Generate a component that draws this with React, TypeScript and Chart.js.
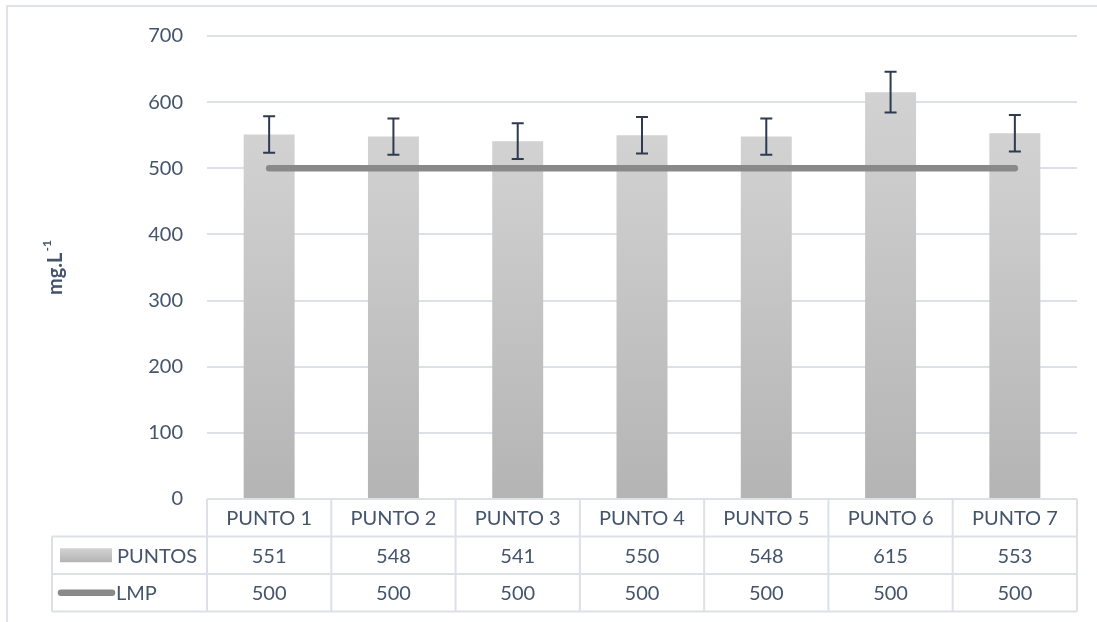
import React, { useEffect, useRef } from "react";
import { Chart, registerables } from "chart.js";

Chart.register(...registerables);

const categories = ["PUNTO 1", "PUNTO 2", "PUNTO 3", "PUNTO 4", "PUNTO 5", "PUNTO 6", "PUNTO 7"];
const puntosValues = [551, 548, 541, 550, 548, 615, 553];
const puntosErrors = [27.6, 27.4, 27.1, 27.5, 27.4, 30.8, 27.7];
const lmpValues = [500, 500, 500, 500, 500, 500, 500];
const seriesNames = ["PUNTOS", "LMP"];
const yMin = 0;
const yMax = 700;
const yStep = 100;
const yTitleMain = "mg.L";
const yTitleSup = "-1";

const TEXT = "#44546a";
const FONT = "Lato, 'Open Sans', sans-serif";
const GRID = "#dde1e7";
const BAR_TOP = "#d2d2d2";
const BAR_BOTTOM = "#b4b4b4";
const LINE = "#898989";
const ERR = "#2e3a50";

const framePlugin = {
  id: "frame",
  beforeDraw(chart: any) {
    const c = chart.ctx;
    c.save();
    c.strokeStyle = "#dfe3e8";
    c.lineWidth = 2;
    c.beginPath();
    c.moveTo(7, chart.height + 5);
    c.lineTo(7, 6);
    c.lineTo(chart.width + 5, 6);
    c.stroke();
    c.restore();
  },
};

const errorBarPlugin = {
  id: "errorBars",
  afterDatasetsDraw(chart: any) {
    const meta = chart.getDatasetMeta(0);
    const y = chart.scales.y;
    const c = chart.ctx;
    c.save();
    c.strokeStyle = ERR;
    c.lineWidth = 2;
    meta.data.forEach((el: any, i: number) => {
      const v = puntosValues[i];
      const e = puntosErrors[i];
      const yt = y.getPixelForValue(v + e);
      const yb = y.getPixelForValue(v - e);
      const x = el.x;
      c.beginPath();
      c.moveTo(x, yt);
      c.lineTo(x, yb);
      c.moveTo(x - 6, yt);
      c.lineTo(x + 6, yt);
      c.moveTo(x - 6, yb);
      c.lineTo(x + 6, yb);
      c.stroke();
    });
    c.restore();
  },
};

const tablePlugin = {
  id: "dataTable",
  afterDraw(chart: any) {
    const c = chart.ctx;
    const area = chart.chartArea;
    const xs = chart.scales.x;
    const n = categories.length;
    const colW = (area.right - area.left) / n;
    const rowH = 37.5;
    const top = area.bottom;
    const legendLeft = 52;
    c.save();
    c.strokeStyle = GRID;
    c.lineWidth = 2;
    c.beginPath();
    c.moveTo(area.left, top);
    c.lineTo(area.right, top);
    for (let r = 1; r <= 3; r++) {
      c.moveTo(legendLeft, top + rowH * r);
      c.lineTo(area.right, top + rowH * r);
    }
    for (let i = 0; i <= n; i++) {
      const x = area.left + colW * i;
      c.moveTo(x, top);
      c.lineTo(x, top + rowH * 3);
    }
    c.moveTo(legendLeft, top + rowH);
    c.lineTo(legendLeft, top + rowH * 3);
    c.stroke();

    c.fillStyle = TEXT;
    c.font = `20px ${FONT}`;
    c.textAlign = "center";
    c.textBaseline = "middle";
    categories.forEach((cat, i) => {
      const cx = xs.getPixelForValue(i);
      c.fillText(cat, cx, top + rowH * 0.5 + 1);
      c.fillText(String(puntosValues[i]), cx, top + rowH * 1.5 + 1);
      c.fillText(String(lmpValues[i]), cx, top + rowH * 2.5 + 1);
    });

    const r1 = top + rowH * 1.5;
    const g = c.createLinearGradient(0, r1 - 7, 0, r1 + 7);
    g.addColorStop(0, BAR_TOP);
    g.addColorStop(1, BAR_BOTTOM);
    c.fillStyle = g;
    c.fillRect(60, r1 - 7, 52, 14);
    const r2 = top + rowH * 2.5;
    c.strokeStyle = LINE;
    c.lineWidth = 6.5;
    c.lineCap = "round";
    c.beginPath();
    c.moveTo(61, r2);
    c.lineTo(112, r2);
    c.stroke();

    c.fillStyle = TEXT;
    c.textAlign = "left";
    c.fillText(seriesNames[0], 117, r1 + 1);
    c.fillText(seriesNames[1], 116, r2 + 1);

    c.save();
    c.translate(55, 268);
    c.rotate(-Math.PI / 2);
    c.font = `bold 20px ${FONT}`;
    const w1 = c.measureText(yTitleMain).width;
    c.font = `bold 12px ${FONT}`;
    const w2 = c.measureText(yTitleSup).width;
    const start = -(w1 + w2) / 2;
    c.textAlign = "left";
    c.textBaseline = "alphabetic";
    c.font = `bold 20px ${FONT}`;
    c.fillText(yTitleMain, start, 7);
    c.font = `bold 12px ${FONT}`;
    c.fillText(yTitleSup, start + w1 + 1, -4);
    c.restore();

    c.restore();
  },
};

export default function App() {
  const ref = useRef<HTMLCanvasElement | null>(null);
  useEffect(() => {
    if (!ref.current) return;
    const chart = new Chart(ref.current, {
      type: "bar",
      data: {
        labels: categories,
        datasets: [
          {
            type: "bar",
            label: seriesNames[0],
            data: puntosValues,
            order: 1,
            barPercentage: 0.41,
            categoryPercentage: 1,
            backgroundColor: (ctx: any) => {
              const ch = ctx.chart;
              if (!ch.chartArea || ctx.raw == null) return BAR_BOTTOM;
              const yTop = ch.scales.y.getPixelForValue(ctx.raw);
              const yBot = ch.scales.y.getPixelForValue(0);
              const g = ch.ctx.createLinearGradient(0, yTop, 0, yBot);
              g.addColorStop(0, BAR_TOP);
              g.addColorStop(1, BAR_BOTTOM);
              return g;
            },
          } as any,
          {
            type: "line",
            label: seriesNames[1],
            data: lmpValues,
            order: 0,
            borderColor: LINE,
            borderWidth: 6.5,
            borderCapStyle: "round",
            pointRadius: 0,
            fill: false,
          } as any,
        ],
      },
      options: {
        animation: false,
        responsive: false,
        maintainAspectRatio: false,
        layout: { padding: { left: 0, right: 20, top: 34, bottom: 123 } },
        plugins: {
          legend: { display: false },
          tooltip: { enabled: false },
          title: { display: false },
        },
        scales: {
          x: {
            display: false,
            offset: true,
          },
          y: {
            min: yMin,
            max: yMax,
            afterFit: (s: any) => {
              s.width = 207;
            },
            ticks: {
              stepSize: yStep,
              padding: 24,
              color: TEXT,
              font: { family: FONT, size: 20 },
            },
            grid: { color: GRID, lineWidth: 2, drawTicks: false },
            border: { display: false },
          },
        },
      },
      plugins: [framePlugin, errorBarPlugin, tablePlugin],
    });
    return () => chart.destroy();
  }, []);
  return (
    <div style={{ position: "absolute", left: 0, top: 0, width: 1097, height: 622, background: "#fff" }}>
      <canvas ref={ref} width={1097} height={622} style={{ width: 1097, height: 622 }} />
    </div>
  );
}
